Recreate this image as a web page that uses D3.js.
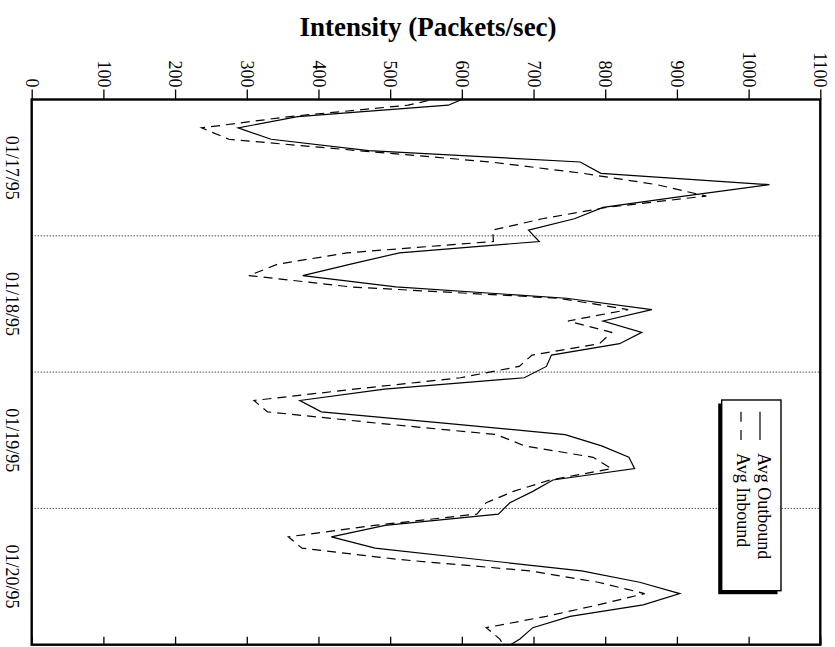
<!DOCTYPE html>
<html>
<head>
<meta charset="utf-8">
<script src="https://cdn.jsdelivr.net/npm/d3@7"></script>
<style>
  html, body { margin: 0; padding: 0; background: #fff; }
  svg { display: block; }
  text { font-family: "Liberation Serif", "Times New Roman", serif; fill: #000; }
</style>
</head>
<body>
<svg id="chart" width="835" height="647"></svg>
<script>
// Day labels along the time axis (one per day, centred in its band)
const dayLabels = ["01/17/95", "01/18/95", "01/19/95", "01/20/95"];

// Intensity tick values (packets/sec)
const intensityTicks = [0, 100, 200, 300, 400, 500, 600, 700, 800, 900, 1000, 1100];

// Two-hour averages, 01/16 23:00 through 01/21 01:00 (hours from 01/17 00:00)
const sampleHours = d3.range(-1, 98, 2);

const avgOutbound = [
  619,
  581, 371, 288, 334, 470, 765, 794, 1029, 910, 797, 757, 693,
  708, 513, 445, 378, 508, 746, 865, 797, 851, 820, 725, 718,
  687, 492, 374, 404, 575, 744, 795, 833, 841, 727, 699, 667,
  651, 493, 418, 479, 623, 767, 848, 904, 853, 751, 699, 681,
  655
];

const avgInbound = [
  594,
  525, 360, 237, 275, 455, 640, 769, 872, 941, 802, 712, 643,
  644, 440, 343, 303, 445, 736, 832, 748, 809, 792, 698, 680,
  598, 450, 310, 329, 483, 648, 688, 783, 809, 723, 672, 634,
  621, 478, 358, 377, 513, 695, 790, 855, 790, 718, 634, 653,
  662
];

const seriesNames = ["Avg Outbound", "Avg Inbound"];

const svg = d3.select("#chart");

const plot = { left: 31.7, right: 820.3, top: 99.5, bottom: 644.7 };

// Intensity runs left to right, time runs top to bottom
const x = d3.scaleLinear().domain([0, 1100]).range([plot.left, plot.right]);
const t = d3.scaleLinear().domain([0, 96]).range([plot.top, plot.bottom]);

// Title
svg.append("text")
  .attr("x", 428)
  .attr("y", 36)
  .attr("text-anchor", "middle")
  .style("font-size", "27px")
  .style("font-weight", "bold")
  .text("Intensity (Packets/sec)");

// Clip region for the data lines
svg.append("defs").append("clipPath").attr("id", "plotClip")
  .append("rect")
  .attr("x", plot.left).attr("y", plot.top)
  .attr("width", plot.right - plot.left)
  .attr("height", plot.bottom - plot.top);

// Dotted day separators
const dayBounds = [24, 48, 72];
svg.append("g").selectAll("line")
  .data(dayBounds)
  .join("line")
  .attr("x1", plot.left).attr("x2", plot.right)
  .attr("y1", d => t(d)).attr("y2", d => t(d))
  .attr("stroke", "#000")
  .attr("stroke-width", 1)
  .attr("stroke-dasharray", "1,2");

// Day labels, rotated to read downwards
svg.append("g").selectAll("text")
  .data(dayLabels)
  .join("text")
  .attr("transform", (d, i) => `translate(12.5,${t(i * 24 + 12)}) rotate(90)`)
  .attr("text-anchor", "middle")
  .attr("dy", "0.35em")
  .style("font-size", "18px")
  .text(d => d);

// Top axis: outward ticks with rotated labels
const topAxis = svg.append("g")
  .attr("transform", `translate(0,${plot.top})`)
  .call(d3.axisTop(x).tickValues(intensityTicks).tickFormat(d3.format("d")).tickSize(10).tickPadding(0));
topAxis.select(".domain").remove();
topAxis.selectAll(".tick line").attr("stroke", "#000").attr("stroke-width", 1.3);
topAxis.selectAll(".tick text")
  .attr("x", 0).attr("y", 0)
  .attr("transform", "translate(0,-12) rotate(90)")
  .attr("text-anchor", "end")
  .attr("dy", "0.35em")
  .style("font-family", '"Liberation Serif", "Times New Roman", serif')
  .style("font-size", "18px")
  .attr("fill", "#000");

// Bottom axis: inward ticks, no labels
const bottomAxis = svg.append("g")
  .attr("transform", `translate(0,${plot.bottom})`)
  .call(d3.axisBottom(x).tickValues(intensityTicks).tickSize(-8).tickFormat(""));
bottomAxis.select(".domain").remove();
bottomAxis.selectAll(".tick line").attr("stroke", "#000").attr("stroke-width", 1.3);

// Series lines
const line = d3.line()
  .x(d => x(d.v))
  .y(d => t(d.h));

const toPoints = vals => vals.map((v, i) => ({ h: sampleHours[i], v }));

const lines = svg.append("g").attr("clip-path", "url(#plotClip)");
lines.append("path")
  .datum(toPoints(avgOutbound))
  .attr("d", line)
  .attr("fill", "none")
  .attr("stroke", "#000")
  .attr("stroke-width", 1.2)
  .attr("stroke-linejoin", "miter");
lines.append("path")
  .datum(toPoints(avgInbound))
  .attr("d", line)
  .attr("fill", "none")
  .attr("stroke", "#000")
  .attr("stroke-width", 1.2)
  .attr("stroke-dasharray", "9,6");

// Plot frame
svg.append("rect")
  .attr("x", plot.left).attr("y", plot.top)
  .attr("width", plot.right - plot.left)
  .attr("height", plot.bottom - plot.top)
  .attr("fill", "none")
  .attr("stroke", "#000")
  .attr("stroke-width", 2.4);

// Legend box with drop shadow
const legend = svg.append("g");
const box = { x: 721.7, y: 400, w: 59.3, h: 190.7 };
legend.append("rect")
  .attr("x", box.x - 3.5).attr("y", box.y + 3.5)
  .attr("width", box.w).attr("height", box.h)
  .attr("fill", "#000");
legend.append("rect")
  .attr("x", box.x).attr("y", box.y)
  .attr("width", box.w).attr("height", box.h)
  .attr("fill", "#fff")
  .attr("stroke", "#000")
  .attr("stroke-width", 1.4);

const legendRows = [
  { name: seriesNames[0], sx: 760, tx: 757.5, dash: null },
  { name: seriesNames[1], sx: 741, tx: 737, dash: "10,8.3" }
];
legendRows.forEach(r => {
  legend.append("line")
    .attr("x1", r.sx).attr("x2", r.sx)
    .attr("y1", 411.7).attr("y2", 440)
    .attr("stroke", "#000")
    .attr("stroke-width", 1.2)
    .attr("stroke-dasharray", r.dash);
  legend.append("text")
    .attr("transform", `translate(${r.tx},453) rotate(90)`)
    .attr("text-anchor", "start")
    .style("font-size", "18px")
    .text(r.name);
});
</script>
</body>
</html>
